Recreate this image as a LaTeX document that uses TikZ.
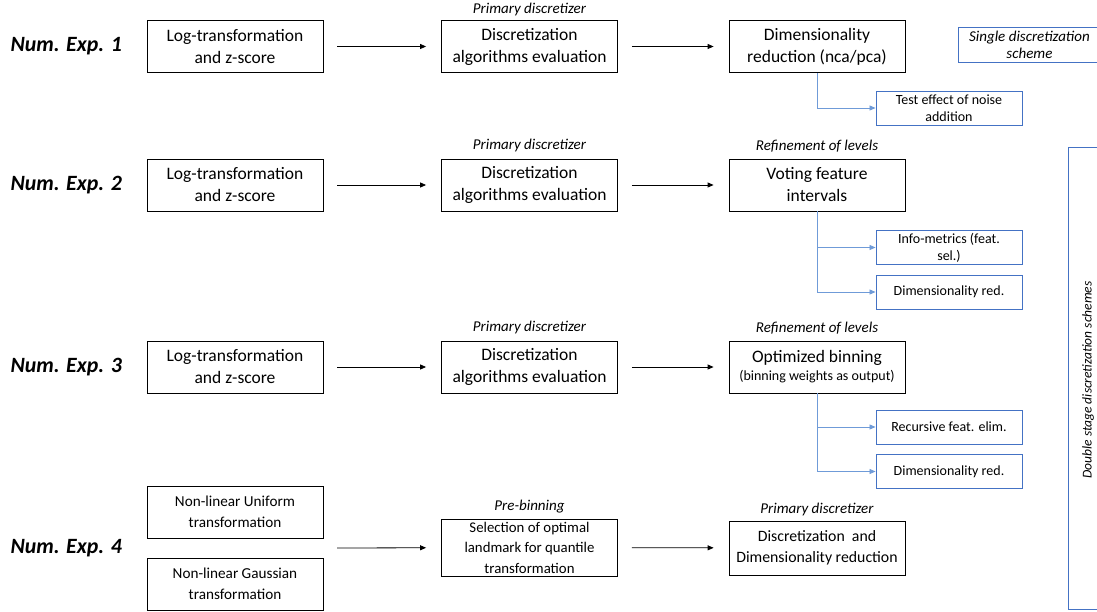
\documentclass[tikz,border=0pt]{standalone}
\usepackage{fontspec}
\setmainfont{Carlito}
\usetikzlibrary{arrows.meta}
\definecolor{accent}{HTML}{4472C4}
\definecolor{linkblue}{HTML}{6F9BD8}
\begin{document}
\begin{tikzpicture}[x=1pt,y=-1pt,
  stage/.style={draw, line width=0.8pt, minimum width=176pt, minimum height=52pt,
    align=center, inner sep=1pt, font=\fontsize{17.5}{22}\selectfont},
  laststage/.style={stage, font=\fontsize{15.2}{20.5}\selectfont},
  substage/.style={draw=accent, line width=0.9pt, minimum width=146pt, minimum height=34pt,
    align=center, inner sep=1pt, font=\fontsize{14}{17}\selectfont},
  tag/.style={font=\fontsize{15}{17}\selectfont\itshape},
  exp/.style={font=\fontsize{21.8}{24}\selectfont\bfseries\itshape, anchor=west},
  flow/.style={-{Triangle[length=6pt,width=5pt]}, line width=0.8pt, shorten <=14pt, shorten >=15pt},
  branch/.style={-{Triangle[length=6pt,width=5pt]}, draw=linkblue, line width=0.8pt},
  scheme/.style={draw=accent, line width=0.9pt}]
\useasboundingbox (0,0) rectangle (1097,612);
\clip (0,0) rectangle (1097,612);

% experiment 1
\node[exp] (e1) at (7,46) {Num. Exp. 1};
\node[stage] (log1) at (235,46.5) {Log-transformation\\and z-score};
\node[stage] (disc1) at (529.5,46.5) {Discretization\\algorithms evaluation};
\node[stage] (dim1) at (817,46.5) {Dimensionality\\reduction (nca/pca)};
\node[tag] (t1) at (529.5,10) {Primary discretizer};
\node[substage] (noise1) at (949,108) {Test effect of noise\\addition};
\draw[flow] (log1) -- (disc1);
\draw[flow] (disc1) -- (dim1);
\draw[branch] (dim1.south) |- (noise1.west);

% single-stage scheme label (box runs past the right edge)
\node[scheme, minimum width=150pt, minimum height=35pt, align=center, inner sep=0pt,
  font=\fontsize{15}{17}\selectfont\itshape, anchor=west] (single) at (958,44.5)
  {\hspace*{-8pt}Single discretization\\\hspace*{-8pt}scheme};

% experiment 2
\node[exp] (e2) at (7,185) {Num. Exp. 2};
\node[stage] (log2) at (235,185) {Log-transformation\\and z-score};
\node[stage] (disc2) at (529.5,185) {Discretization\\algorithms evaluation};
\node[stage] (vote2) at (817,185) {Voting feature\\intervals};
\node[tag] (t2a) at (529.5,146) {Primary discretizer};
\node[tag] (t2b) at (817,146) {Refinement of levels};
\node[substage] (info2) at (949,247.5) {Info-metrics (feat.\\sel.)};
\node[substage] (dr2) at (949,292) {Dimensionality red.};
\draw[flow] (log2) -- (disc2);
\draw[flow] (disc2) -- (vote2);
\draw[branch] (vote2.south) |- (info2.west);
\draw[branch] (vote2.south) |- (dr2.west);

% experiment 3
\node[exp] (e3) at (7,367) {Num. Exp. 3};
\node[stage] (log3) at (235,367) {Log-transformation\\and z-score};
\node[stage] (disc3) at (529.5,367) {Discretization\\algorithms evaluation};
\node[stage] (opt3) at (817,367) {Optimized binning\\[-4pt]{\fontsize{14}{16}\selectfont(binning weights as output)}};
\node[tag] (t3a) at (529.5,328) {Primary discretizer};
\node[tag] (t3b) at (817,328) {Refinement of levels};
\node[substage] (rfe3) at (949,427) {Recursive feat. elim.};
\node[substage] (dr3) at (949,471.5) {Dimensionality red.};
\draw[flow] (log3) -- (disc3);
\draw[flow] (disc3) -- (opt3);
\draw[branch] (opt3.south) |- (rfe3.west);
\draw[branch] (opt3.south) |- (dr3.west);

% experiment 4
\node[exp] (e4) at (7,548) {Num. Exp. 4};
\node[laststage] (uni4) at (235,512) {Non-linear Uniform\\transformation};
\node[laststage] (gau4) at (235,584) {Non-linear Gaussian\\transformation};
\coordinate (src4) at (337,548);
\node[laststage, minimum height=57pt, font=\fontsize{14.8}{20.5}\selectfont] (sel4) at (529.5,547.5) {Selection of optimal\\landmark for quantile\\transformation};
\node[laststage, minimum height=54pt, font=\fontsize{15.8}{21}\selectfont] (dd4) at (817,548) {Discretization\ \ and\\Dimensionality reduction};
\node[tag] (t4a) at (529.5,507) {Pre-binning};
\node[tag] (t4b) at (817,509) {Primary discretizer};
\draw[flow, shorten <=0pt] (src4) -- (sel4);
\draw[flow] (sel4) -- (dd4);

% two-stage scheme bracket
\draw[scheme] (1100,147) -- (1068,147) -- (1068,609) -- (1100,609);
\node[font=\fontsize{13.5}{16}\selectfont\itshape, rotate=90] (double) at (1088,380)
  {Double stage discretization schemes};
\end{tikzpicture}
\end{document}
